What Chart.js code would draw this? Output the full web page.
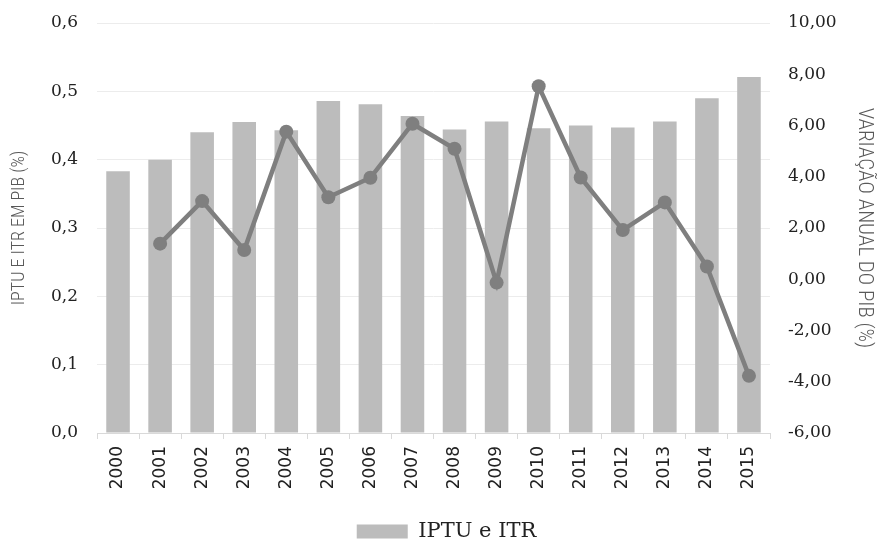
<!DOCTYPE html>
<html>
<head>
<meta charset="utf-8">
<script src="https://cdn.jsdelivr.net/npm/chart.js@4"></script>
<style>
  html, body { margin: 0; padding: 0; background: #fff; }
  #wrap { width: 877px; height: 540px; }
</style>
</head>
<body>
<div id="wrap"><canvas id="chart" width="877" height="540"></canvas></div>
<script>
// Data
const years = ['2000', '2001', '2002', '2003', '2004', '2005', '2006', '2007',
               '2008', '2009', '2010', '2011', '2012', '2013', '2014', '2015'];
// IPTU e ITR em % do PIB (left axis)
const iptuItr = [0.383, 0.400, 0.440, 0.455, 0.443, 0.486, 0.481, 0.464,
                 0.444, 0.456, 0.446, 0.450, 0.447, 0.456, 0.490, 0.521];
// Variação anual do PIB em % (right axis)
const pibVar = [null, 1.39, 3.05, 1.14, 5.76, 3.20, 3.96, 6.07,
                5.09, -0.13, 7.53, 3.97, 1.92, 3.00, 0.50, -3.77];

const leftTitle = 'IPTU E ITR EM PIB (%)';
const rightTitle = 'VARIAÇÃO ANUAL DO PIB (%)';

const serif = '"DejaVu Serif", serif';
const sans = '"DejaVu Sans", sans-serif';
const narrow = '"Liberation Sans Narrow", "Roboto Condensed", Roboto, sans-serif';

// move the legend a bit to sit like the original
const legendShift = {
    id: 'legendShift',
    afterLayout(chart) {
        const lg = chart.legend;
        lg.left += 8;
        lg.right += 8;
        lg.top += 12;
        lg.bottom += 12;
    }
};

// fixed axis width; tick padding should not push the plot area down
function fixWidth(w) {
    return scale => {
        scale.width = w;
        scale.paddingTop = 8;
        scale.paddingBottom = 8;
    };
}

const ctx = document.getElementById('chart').getContext('2d');
new Chart(ctx, {
    type: 'bar',
    data: {
        labels: years,
        datasets: [
            {
                type: 'line',
                label: 'Variação PIB',
                data: pibVar,
                yAxisID: 'y1',
                borderColor: '#7f7f7f',
                backgroundColor: '#7f7f7f',
                borderWidth: 4.5,
                pointRadius: 7,
                pointBackgroundColor: '#7f7f7f',
                pointBorderWidth: 0,
                tension: 0,
                order: 0
            },
            {
                label: 'IPTU e ITR',
                data: iptuItr,
                yAxisID: 'y',
                backgroundColor: '#bcbcbc',
                barPercentage: 0.56,
                categoryPercentage: 1,
                order: 1
            }
        ]
    },
    options: {
        responsive: false,
        animation: false,
        layout: { padding: { top: 23, left: 0, right: 0, bottom: 0 } },
        plugins: {
            tooltip: { enabled: false },
            legend: {
                position: 'bottom',
                labels: {
                    filter: item => item.text === 'IPTU e ITR',
                    boxWidth: 51,
                    boxHeight: 14,
                    color: '#222',
                    font: { family: serif, size: 21 },
                    padding: 0
                }
            }
        },
        scales: {
            x: {
                offset: true,
                afterFit: scale => { scale.height = 76; },
                grid: {
                    offset: true,
                    drawOnChartArea: false,
                    drawTicks: true,
                    tickLength: 6,
                    color: '#d9d9d9'
                },
                border: { color: '#d9d9d9' },
                ticks: {
                    autoSkip: false,
                    minRotation: 90,
                    maxRotation: 90,
                    padding: 7,
                    color: '#222',
                    font: { family: sans, size: 17 }
                }
            },
            y: {
                position: 'left',
                min: 0,
                max: 0.6,
                afterFit: fixWidth(97),
                grid: { color: '#ececec', drawTicks: false },
                border: { display: false },
                ticks: {
                    stepSize: 0.1,
                    padding: 19,
                    color: '#222',
                    font: { family: serif, size: 17 },
                    callback: v => v.toFixed(1).replace('.', ',')
                },
                title: {
                    display: true,
                    text: leftTitle,
                    color: '#595959',
                    padding: { top: 9, bottom: 0 },
                    font: { family: narrow, size: 18, weight: 300 }
                }
            },
            y1: {
                position: 'right',
                min: -6,
                max: 10,
                afterFit: fixWidth(107),
                grid: { display: false, drawTicks: false },
                border: { display: false },
                ticks: {
                    stepSize: 2,
                    padding: 18,
                    color: '#222',
                    font: { family: serif, size: 17 },
                    callback: v => v.toFixed(2).replace('.', ',')
                },
                title: {
                    display: true,
                    text: rightTitle,
                    color: '#595959',
                    padding: { top: 0, bottom: 0 },
                    font: { family: narrow, size: 21, weight: 300 }
                }
            }
        }
    },
    plugins: [legendShift]
});
</script>
</body>
</html>
